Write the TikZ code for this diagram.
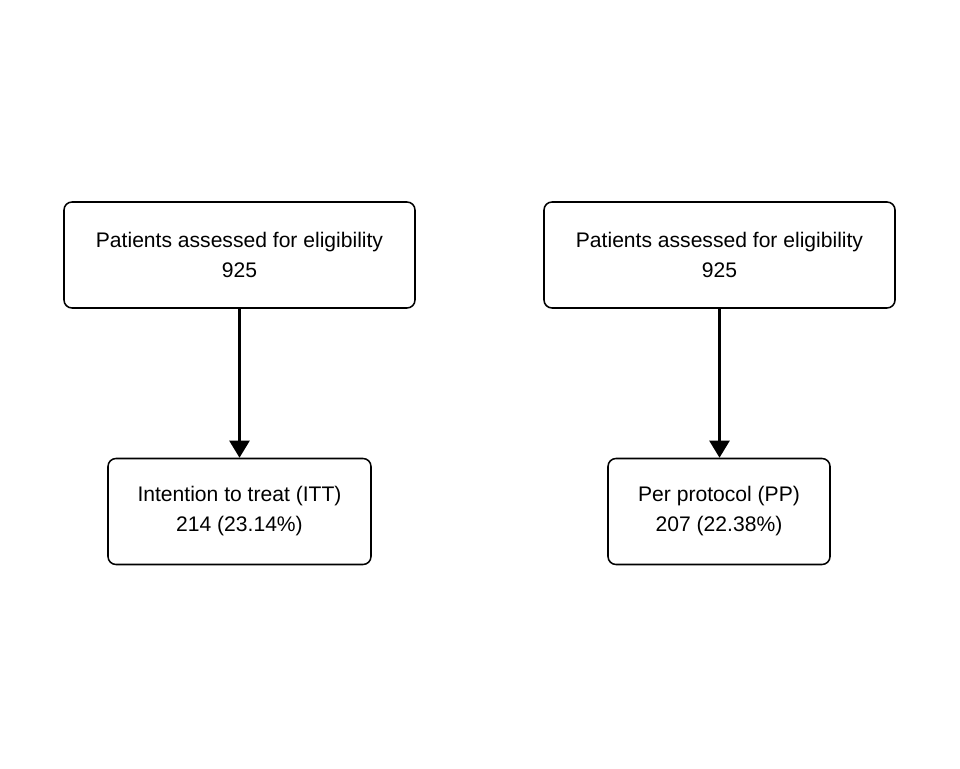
\documentclass[tikz,border=0pt]{standalone}
\usepackage{fontspec}
\setmainfont{Liberation Sans}
\usetikzlibrary{arrows.meta}

\tikzset{
  flowbox/.style={draw, line width=1.1pt, rounded corners=0.2cm, align=center, inner sep=0pt,
    minimum height=2.65cm, font=\fontsize{15}{21.3}\selectfont},
  flowarrow/.style={line width=1.7pt, -{Triangle[width=0.5cm, length=0.425cm]}}
}

\begin{document}
\begin{tikzpicture}
\useasboundingbox (0,0) rectangle (24,19.2);
\node[flowbox, minimum width=8.775cm] (assessitt) at (5.9875,12.825) {Patients assessed for eligibility\\925};
\node[flowbox, minimum width=8.775cm] (assesspp) at (17.9875,12.825) {Patients assessed for eligibility\\925};
\node[flowbox, minimum width=6.575cm] (itt) at (5.9875,6.4125) {Intention to treat (ITT)\\214 (23.14\%)};
\node[flowbox, minimum width=5.55cm] (pp) at (17.975,6.4125) {Per protocol (PP)\\207 (22.38\%)};
\draw[flowarrow] (assessitt) -- (itt);
\draw[flowarrow] (assesspp.south) -- (assesspp.south |- pp.north);
\end{tikzpicture}
\end{document}
